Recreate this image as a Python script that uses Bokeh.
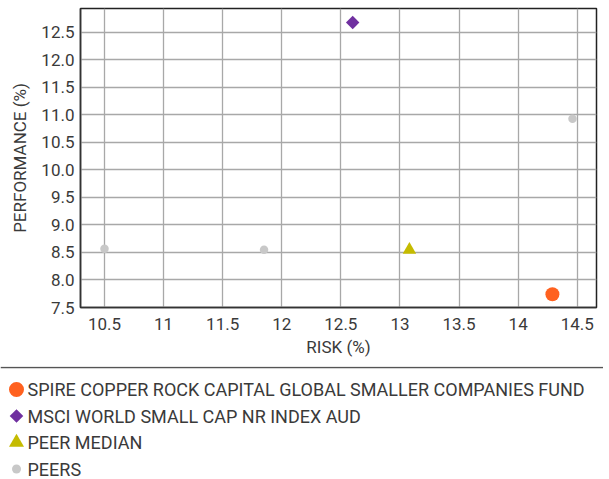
import math
from bokeh.plotting import figure
from bokeh.models import Range1d, FixedTicker, Span, ColumnDataSource
from bokeh.layouts import column
from bokeh.embed import file_html
from bokeh.resources import INLINE
from bokeh.core.properties import value

# ---------------- data ----------------
series_names = [
    "SPIRE COPPER ROCK CAPITAL GLOBAL SMALLER COMPANIES FUND",
    "MSCI WORLD SMALL CAP NR INDEX AUD",
    "PEER MEDIAN",
    "PEERS",
]
series_colors = ["#ff611f", "#7030a0", "#c5bb00", "#c8c8c8"]
series_markers = ["circle", "square", "triangle", "circle"]

fund_risk = [14.29]
fund_perf = [7.74]
index_risk = [12.60]
index_perf = [12.68]
median_risk = [13.08]
median_perf = [8.55]
peers_risk = [10.50, 11.85, 14.46]
peers_perf = [8.57, 8.55, 10.93]

x_ticks = [10.5, 11, 11.5, 12, 12.5, 13, 13.5, 14, 14.5]
x_tick_labels = ["10.5", "11", "11.5", "12", "12.5", "13", "13.5", "14", "14.5"]
y_ticks = [7.5, 8.0, 8.5, 9.0, 9.5, 10.0, 10.5, 11.0, 11.5, 12.0, 12.5]
y_tick_labels = ["7.5", "8.0", "8.5", "9.0", "9.5", "10.0", "10.5", "11.0", "11.5", "12.0", "12.5"]

x_title = "RISK (%)"
y_title = "PERFORMANCE (%)"

FONT = "Roboto"
TXT = "#3a3a3a"

# ---------------- scatter figure ----------------
p = figure(width=603, height=366, output_backend="svg", toolbar_location=None,
           x_range=Range1d(10.297, 14.663), y_range=Range1d(7.5, 12.936),
           min_border_left=80, min_border_right=7, min_border_top=8, min_border_bottom=59)
p.background_fill_color = "white"
p.border_fill_color = "white"
p.outline_line_color = "#222222"
p.outline_line_width = 1.5

p.xaxis.ticker = FixedTicker(ticks=x_ticks)
p.yaxis.ticker = FixedTicker(ticks=y_ticks)
p.xaxis.major_label_overrides = {t: l for t, l in zip(x_ticks, x_tick_labels)}
p.yaxis.major_label_overrides = {t: l for t, l in zip(y_ticks, y_tick_labels)}
p.xgrid.ticker = FixedTicker(ticks=x_ticks)
p.ygrid.ticker = FixedTicker(ticks=y_ticks)
for g in (p.xgrid, p.ygrid):
    g.grid_line_color = "#a8a8a8"
    g.grid_line_width = 1.3

for ax in (p.xaxis, p.yaxis):
    ax.axis_line_color = "#333333"
    ax.axis_line_width = 1.5
    ax.major_tick_line_color = None
    ax.minor_tick_line_color = None
    ax.major_tick_out = 0
    ax.major_tick_in = 0
    ax.major_label_text_font = FONT
    ax.major_label_text_font_size = "17px"
    ax.major_label_text_color = TXT
    ax.axis_label_text_font = FONT
    ax.axis_label_text_font_style = "normal"
    ax.axis_label_text_color = TXT
    ax.axis_label_text_font_size = "17px"

p.xaxis.axis_label = x_title
p.yaxis.axis_label = y_title
p.xaxis.major_label_standoff = 10
p.yaxis.major_label_standoff = 6
p.xaxis.axis_label_standoff = 4
p.yaxis.axis_label_standoff = 8

p.scatter(peers_risk, peers_perf, marker=series_markers[3], size=8.5,
          fill_color=series_colors[3], line_color=None)
p.scatter(median_risk, median_perf, marker=series_markers[2], size=13.5,
          fill_color=series_colors[2], line_color=None)
p.scatter(index_risk, index_perf, marker=series_markers[1], size=9.5, angle=math.pi / 4,
          fill_color=series_colors[1], line_color=None)
p.scatter(fund_risk, fund_perf, marker=series_markers[0], size=14,
          fill_color=series_colors[0], line_color=None)

# ---------------- legend figure ----------------
rows = list(range(len(series_names)))
leg_sizes = [15, 9.6, 15, 9]
leg_angles = [0, math.pi / 4, 0, 0]
leg = figure(width=603, height=113, output_backend="svg", toolbar_location=None,
             x_range=Range1d(0, 603), y_range=Range1d(3.396, -0.868),
             min_border_left=0, min_border_right=0, min_border_top=0, min_border_bottom=0)
leg.axis.visible = False
leg.grid.visible = False
leg.outline_line_color = None
leg.background_fill_color = "white"
leg.border_fill_color = "white"

leg.add_layout(Span(location=-0.83, dimension="width", line_color="#555555", line_width=1.6))

src = ColumnDataSource(dict(x=[16] * len(rows), tx=[27] * len(rows), y=rows, name=series_names,
                            color=series_colors, marker=series_markers,
                            size=leg_sizes, angle=leg_angles))
leg.scatter(x="x", y="y", marker="marker", size="size", angle="angle",
            fill_color="color", line_color=None, source=src)
leg.text(x="tx", y="y", text="name", source=src, text_font=value(FONT),
         text_font_size="18px", text_color=TXT, text_baseline="middle", text_align="left")

layout = column(p, column(leg, spacing=0), spacing=0)
open("out.html", "w").write(file_html(layout, INLINE))
